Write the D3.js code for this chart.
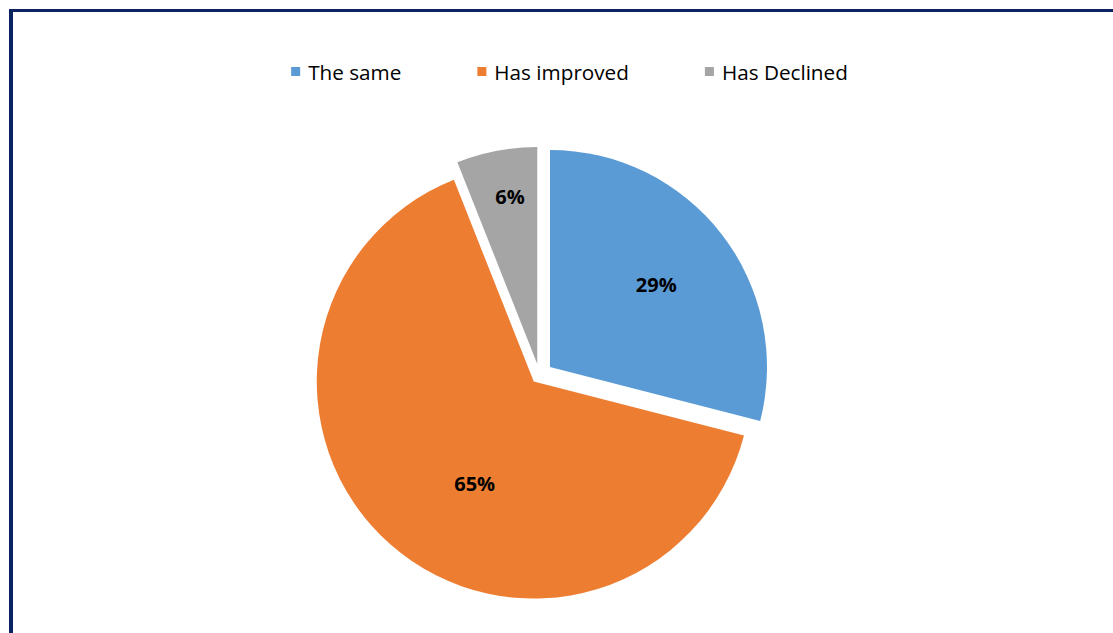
<!DOCTYPE html>
<html>
<head>
<meta charset="utf-8">
<script src="https://cdn.jsdelivr.net/npm/d3@7"></script>
<style>
  body { margin: 0; background: #fff; }
  svg { display: block; }
</style>
</head>
<body>
<svg id="chart" width="1113" height="633"></svg>
<script>
// data
const categories = ["The same", "Has improved", "Has Declined"];
const values = [29, 65, 6];
const valueLabels = ["29%", "65%", "6%"];

const width = 1113;
const height = 633;
const cx = 539.4;
const cy = 375.2;
const radius = 217;
const colors = ["#5b9bd5", "#ed7d31", "#a5a5a5"];
// explosion per slice (px) and label placement tweaks
const explode = [13.4, 8.5, 11.4];
const labelR = [0.62, 0.545, 0.784];
const labelTurn = [0, -11.4, 1.6];

const svg = d3.select("#chart");

// frame
svg.append("line")
  .attr("x1", 11).attr("x2", 11)
  .attr("y1", 9).attr("y2", height)
  .attr("stroke", "#0b2361").attr("stroke-width", 4);
svg.append("line")
  .attr("x1", 9).attr("x2", width)
  .attr("y1", 10.5).attr("y2", 10.5)
  .attr("stroke", "#0b2361").attr("stroke-width", 3);

const color = d3.scaleOrdinal().domain(categories).range(colors);

const pie = d3.pie().sort(null).value((d) => d.value);
const arcs = pie(categories.map((c, i) => ({ name: c, value: values[i], label: valueLabels[i], idx: i })));
const arc = d3.arc().innerRadius(0).outerRadius(radius);

const g = svg.append("g").attr("transform", `translate(${cx},${cy})`);

const offset = (d) => {
  const mid = (d.startAngle + d.endAngle) / 2;
  const e = explode[d.data.idx];
  return [e * Math.sin(mid), -e * Math.cos(mid)];
};

g.selectAll("path.slice")
  .data(arcs)
  .join("path")
  .attr("class", "slice")
  .attr("d", arc)
  .attr("fill", (d) => color(d.data.name))
  .attr("transform", (d) => {
    const [ox, oy] = offset(d);
    return `translate(${ox},${oy})`;
  });

g.selectAll("text.lbl")
  .data(arcs)
  .join("text")
  .attr("class", "lbl")
  .attr("x", (d) => {
    const i = d.data.idx;
    const a = (d.startAngle + d.endAngle) / 2 + labelTurn[i] * Math.PI / 180;
    return offset(d)[0] + labelR[i] * radius * Math.sin(a);
  })
  .attr("y", (d) => {
    const i = d.data.idx;
    const a = (d.startAngle + d.endAngle) / 2 + labelTurn[i] * Math.PI / 180;
    return offset(d)[1] - labelR[i] * radius * Math.cos(a);
  })
  .attr("text-anchor", "middle")
  .attr("dominant-baseline", "central")
  .attr("font-family", "'Open Sans', sans-serif")
  .attr("font-weight", "bold")
  .attr("font-size", 20)
  .attr("fill", "#000")
  .text((d) => d.data.label);

// legend
const legend = svg.append("g").attr("font-family", "'Open Sans', sans-serif").attr("font-size", 20.7);
const items = legend.selectAll("g").data(categories).join("g");
items.append("rect")
  .attr("width", 9).attr("height", 9)
  .attr("y", 67)
  .attr("fill", (d) => color(d));
items.append("text")
  .attr("x", 17)
  .attr("y", 71.5)
  .attr("dominant-baseline", "central")
  .attr("fill", "#000")
  .text((d) => d);

const gap = 76;
const widths = [];
items.each(function () {
  const w = 17 + d3.select(this).select("text").node().getComputedTextLength();
  widths.push(w);
});
const total = d3.sum(widths) + gap * (widths.length - 1);
let xPos = 569.5 - total / 2;
items.attr("transform", (d, i) => {
  const t = `translate(${xPos},0)`;
  xPos += widths[i] + gap;
  return t;
});
</script>
</body>
</html>
